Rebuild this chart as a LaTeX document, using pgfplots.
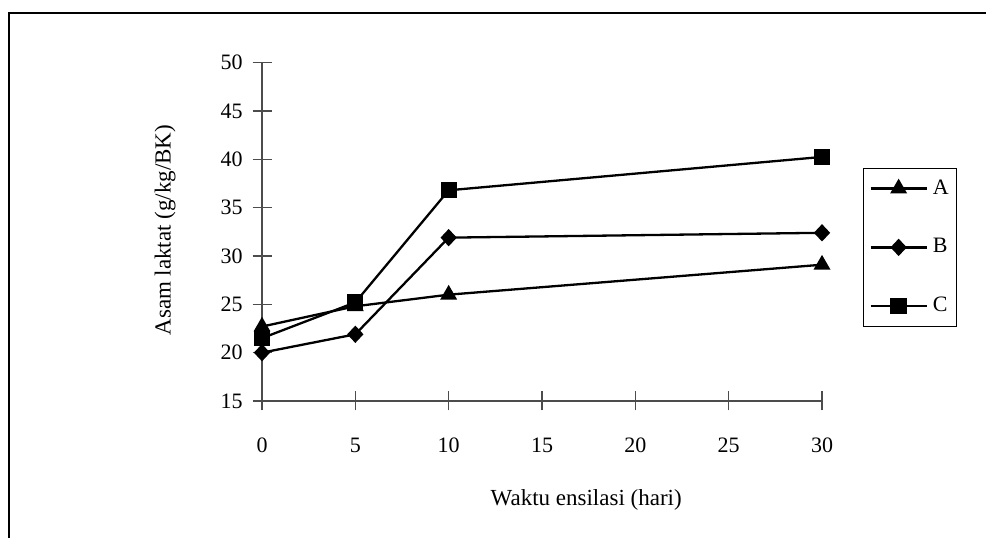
\documentclass[border=0pt]{standalone}
\usepackage{fontspec}
\setmainfont{Liberation Serif}
\usepackage{pgfplots}
\pgfplotsset{compat=1.18}
\begin{document}
\fontsize{23bp}{27bp}\selectfont
\begin{tikzpicture}[x=1bp,y=1bp]
\useasboundingbox (0,0) rectangle (986,538);
% frame (top and left sides only visible)
\draw[line width=2.5bp] (9,0) -- (9,525) -- (986,525);
\begin{axis}[
  at={(262bp,137bp)}, anchor=south west,
  scale only axis, width=560bp, height=338.3bp,
  xmin=0, xmax=30, ymin=15, ymax=50,
  clip=false,
  axis x line=bottom, axis y line=left,
  axis line style={-, black!70, line width=1.3bp},
  xtick={0,5,...,30}, ytick={15,20,...,50},
  tick align=center, major tick length=19bp,
  tick style={black!70, line width=1.2bp},
  /pgf/number format/assume math mode=true,
  ticklabel style={font=\fontsize{22bp}{26bp}\selectfont},
  xticklabel style={yshift=-20bp},
  yticklabel style={xshift=-2bp},
  xlabel={Waktu ensilasi (hari)},
  ylabel={Asam laktat (g/kg/BK)},
  xlabel style={at={(axis description cs:0.579,-0.293)}, anchor=center,
    font=\fontsize{23bp}{27bp}\selectfont},
  ylabel style={at={(axis description cs:-0.173,0.505)}, anchor=center,
    font=\fontsize{23bp}{27bp}\selectfont},
  every axis plot/.append style={black, line width=2.3bp},
  legend style={at={(rel axis cs:1.073,0.689)}, anchor=north west,
    draw=black, line width=1.2bp, inner xsep=6bp, inner ysep=9bp,
    row sep=37bp, cells={anchor=west},
    /tikz/every odd column/.append style={column sep=3bp},
    font=\fontsize{22bp}{26bp}\selectfont},
  legend image code/.code={
    \draw[#1, mark repeat=2, mark phase=2] plot coordinates {(0bp,0bp) (28bp,0bp) (56bp,0bp)};},
]
\addplot[mark=triangle*, mark size=7.5bp] coordinates {(0,22.7)(5,24.8)(10,26.0)(30,29.1)};
\addlegendentry{A}
\addplot[mark=diamond*, mark size=7bp, mark options={xscale=1.25}] coordinates {(0,20.0)(5,21.9)(10,31.9)(30,32.4)};
\addlegendentry{B}
\addplot[mark=square*, mark size=7bp] coordinates {(0,21.5)(5,25.2)(10,36.8)(30,40.25)};
\addlegendentry{C}
\end{axis}
\end{tikzpicture}
\end{document}
